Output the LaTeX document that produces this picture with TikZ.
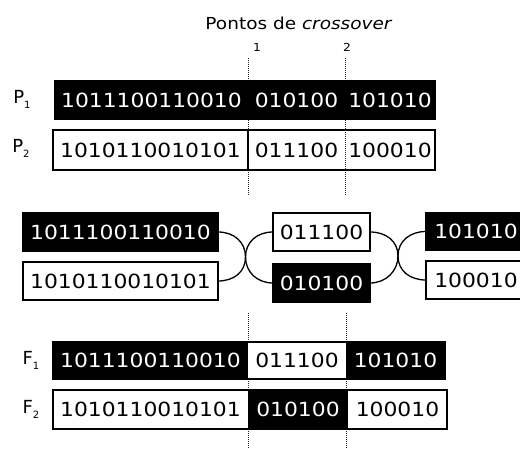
\documentclass[tikz,border=0pt]{standalone}
\usepackage{fontspec}
\setmainfont{DejaVu Sans}
\newfontfamily\bitsfont[FakeStretch=1.12]{DejaVu Sans}
\begin{document}
\begin{tikzpicture}[x=1pt,y=-1pt,
  seg/.style={minimum height=38pt, inner sep=0pt, outer sep=0pt,
    font=\bitsfont\fontsize{19.5}{22}\selectfont},
  blk/.style={seg, fill=black, draw=black, line width=0.8pt, text=white},
  wht/.style={seg, fill=white, text=black},
  boxed/.style={draw=black, line width=1.6pt},
  frame/.style={draw=black, line width=1.6pt},
  conn/.style={draw=black, line width=1.3pt},
  cut/.style={draw=black!85, line width=0.9pt, dash pattern=on 1pt off 1pt},
  lab/.style={inner sep=0pt, font=\fontsize{18}{20}\selectfont},
  num/.style={inner sep=0pt, font=\bitsfont\fontsize{11}{12}\selectfont}
]
\useasboundingbox (0,0) rectangle (520,449);
\clip (0,0) rectangle (520,449);

% title and cut numbers
\node[inner sep=0pt, font=\bitsfont\fontsize{16.5}{20}\selectfont] (title) at (299,23) {Pontos de \textit{crossover}};
\node[num] (n1) at (257,47) {1};
\node[num] (n2) at (347,47) {2};

% upper cut lines
\coordinate (c1t) at (248,58);
\coordinate (c1b) at (248,195);
\coordinate (c2t) at (345,58);
\coordinate (c2b) at (345,195);
\draw[cut] (c1t) -- (c1b);
\draw[cut] (c2t) -- (c2b);

% parents
\node[lab] (lp1) at (22,99) {P\raisebox{-5pt}{\fontsize{10}{10}\selectfont 1}};
\node[lab] (lp2) at (21,148) {P\raisebox{-5pt}{\fontsize{10}{10}\selectfont 2}};

\node[blk, minimum width=193pt] (p1a) at (151.5,100) {1011100110010};
\node[blk, minimum width=97pt]  (p1b) at (296.5,100) {010100};
\node[blk, minimum width=90pt]  (p1c) at (390,100) {101010};
\draw[frame] (p1a.north west) rectangle (p1c.south east);

\node[wht, minimum width=195pt, minimum height=40pt] (p2a) at (150.5,150) {1010110010101};
\node[wht, minimum width=97pt, minimum height=40pt]  (p2b) at (296.5,150) {011100};
\node[wht, minimum width=90pt, minimum height=40pt]  (p2c) at (390,150) {100010};
\draw[frame] (p2a.north west) rectangle (p2c.south east);
\draw[frame] (p2a.north east) -- (p2a.south east);
\draw[cut] (p2b.north east) -- (p2b.south east);

% exchanged pieces
\node[blk, boxed, minimum width=195pt] (la) at (120.5,232) {1011100110010};
\node[wht, boxed, minimum width=195pt] (lb) at (120.5,281) {1010110010101};
\node[wht, boxed, minimum width=97pt]  (ma) at (321.5,232) {011100};
\node[blk, boxed, minimum width=97pt]  (mb) at (321.5,283) {010100};
\node[blk, boxed, minimum width=100pt] (ra) at (476,231.5) {101010};
\node[wht, boxed, minimum width=100pt] (rb) at (476,280) {100010};

\coordinate (x1) at (245.5,257);
\coordinate (x2) at (398,256);
\draw[conn] (la.east) .. controls +(16,0) and +(0,-15) .. (x1) .. controls +(0,15) and +(-16,0) .. (mb.west);
\draw[conn] (lb.east) .. controls +(16,0) and +(0,15) .. (x1) .. controls +(0,-15) and +(-16,0) .. (ma.west);
\draw[conn] (ma.east) .. controls +(16,0) and +(0,-15) .. (x2) .. controls +(0,15) and +(-16,0) .. (rb.west);
\draw[conn] (mb.east) .. controls +(16,0) and +(0,15) .. (x2) .. controls +(0,-15) and +(-16,0) .. (ra.west);

% offspring
\node[lab] (lf1) at (31,360) {F\raisebox{-5pt}{\fontsize{10}{10}\selectfont 1}};
\node[lab] (lf2) at (31,409) {F\raisebox{-5pt}{\fontsize{10}{10}\selectfont 2}};

% lower cut lines
\coordinate (c3t) at (248,313);
\coordinate (c3b) at (248,449);
\coordinate (c4t) at (346.5,313);
\coordinate (c4b) at (346.5,449);
\draw[cut] (c3t) -- (c3b);
\draw[cut] (c4t) -- (c4b);

\node[blk, minimum width=195pt, minimum height=37pt] (f1a) at (150.5,360.5) {1011100110010};
\node[wht, minimum width=98pt, minimum height=37pt]  (f1b) at (297,360.5) {\raisebox{-3pt}{011100}};
\node[blk, minimum width=99pt, minimum height=37pt]  (f1c) at (395.5,360.5) {101010};
\draw[frame] (f1a.north west) rectangle (f1c.south east);

\node[wht, minimum width=195pt, minimum height=39pt] (f2a) at (150.5,409.5) {1010110010101};
\node[blk, minimum width=100pt, minimum height=39pt] (f2b) at (298,409.5) {010100};
\node[wht, minimum width=99pt, minimum height=39pt]  (f2c) at (397.5,409.5) {100010};
\draw[frame] (f2a.north west) rectangle (f2c.south east);
\end{tikzpicture}
\end{document}
